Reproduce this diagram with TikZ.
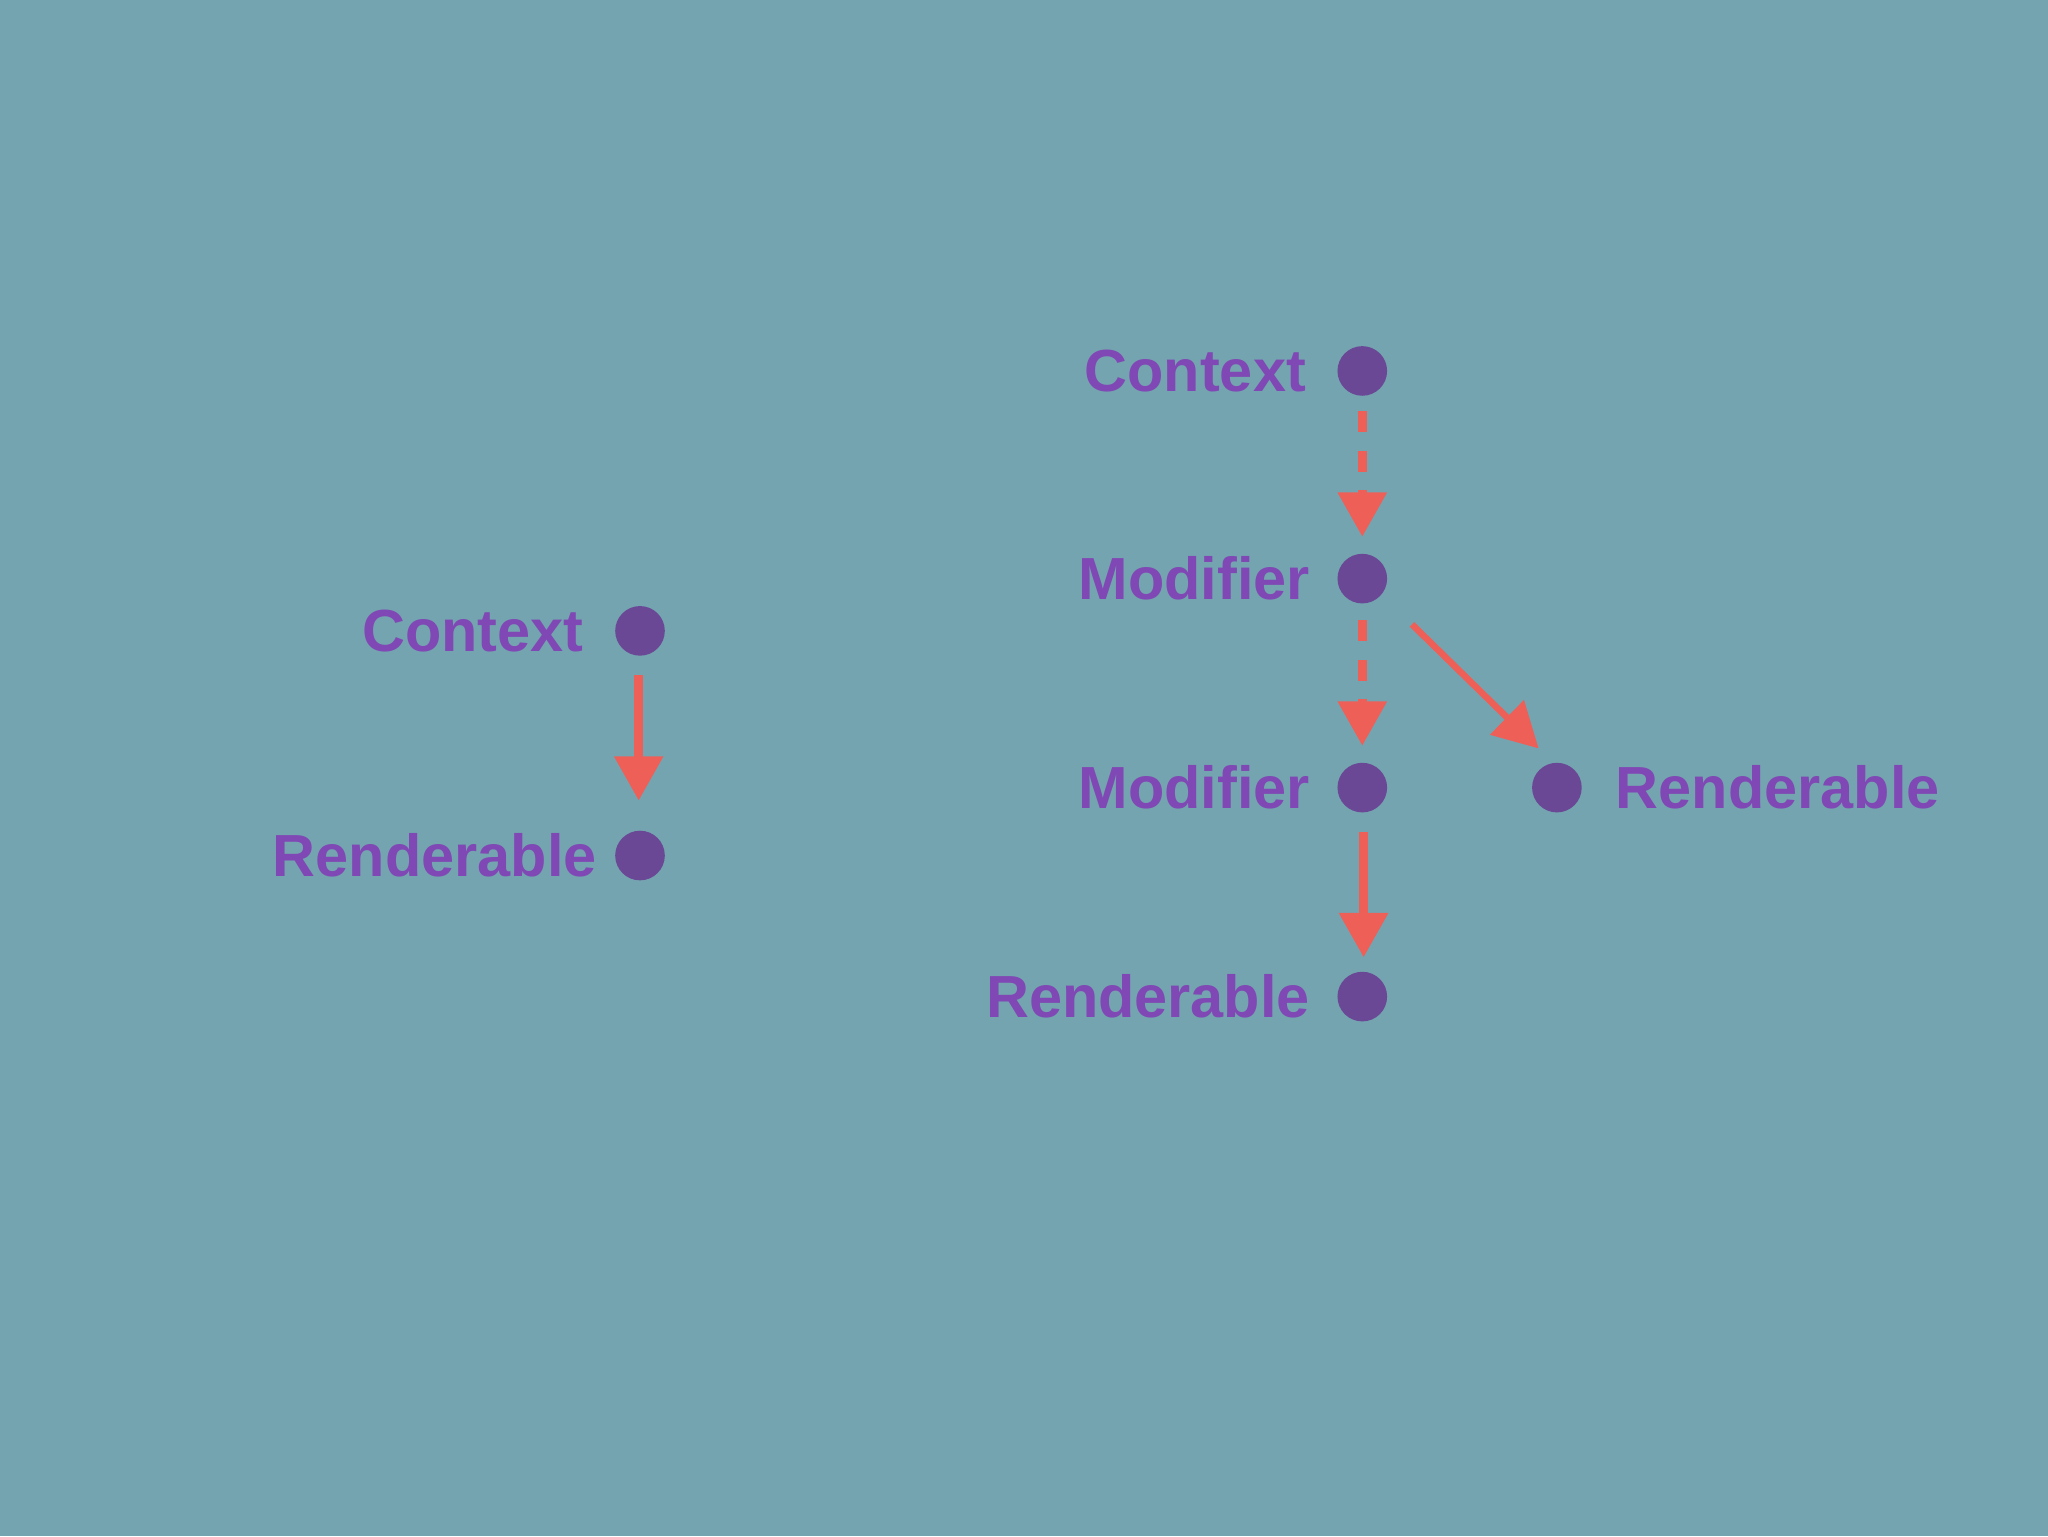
\documentclass[tikz,border=0pt]{standalone}
\usepackage{fontspec}
\setmainfont{Liberation Sans}
\usetikzlibrary{arrows.meta}
\definecolor{bg}{HTML}{74A4B0}
\definecolor{dotc}{HTML}{6A4896}
\definecolor{txt}{HTML}{8048B4}
\definecolor{arr}{HTML}{EE5F58}
\begin{document}
\begin{tikzpicture}[x=1pt,y=-1pt,
  dotn/.style={circle,fill=dotc,minimum size=38pt,inner sep=0pt},
  lbl/.style={text=txt,font=\fontsize{45.5}{52}\selectfont\bfseries,inner sep=0pt},
  arw/.style={draw=arr,line width=7pt,-{Triangle[width=36pt,length=34pt]}},
  dsh/.style={arw,dash pattern=on 16pt off 14pt}]
\fill[bg] (0,0) rectangle (1568,1176);
\useasboundingbox (0,0) rectangle (1568,1176);
% left
\node[dotn] (lc) at (490,483) {};
\node[lbl,anchor=east] at (447,483) {Context};
\node[dotn] (lr) at (490,655) {};
\node[lbl,anchor=east] at (457,655) {Renderable};
\draw[arw] (489,517) -- (489,613);
% right
\node[dotn] (c) at (1043,284) {};
\node[lbl,anchor=east] at (1000,284) {Context};
\node[dotn] (m1) at (1043,443) {};
\node[lbl,anchor=east] at (1003,443) {Modifier};
\node[dotn] (m2) at (1043,603) {};
\node[lbl,anchor=east] at (1003,603) {Modifier};
\node[dotn] (r) at (1043,763) {};
\node[lbl,anchor=east] at (1003,763) {Renderable};
\node[dotn] (rr) at (1192,603) {};
\node[lbl,anchor=west] at (1237,603) {Renderable};
\coordinate (a1) at (1043,315); \coordinate (b1) at (1043,411);
\coordinate (a2) at (1043,475); \coordinate (b2) at (1043,571);
\coordinate (a3) at (1044,637); \coordinate (b3) at (1044,733);
\coordinate (a4) at (1081,478); \coordinate (b4) at (1178,573);
\draw[dsh] (a1) -- (b1);
\draw[dsh] (a2) -- (b2);
\draw[arw] (a3) -- (b3);
\draw[arw,line width=5pt] (a4) -- (b4);
\end{tikzpicture}
\end{document}
